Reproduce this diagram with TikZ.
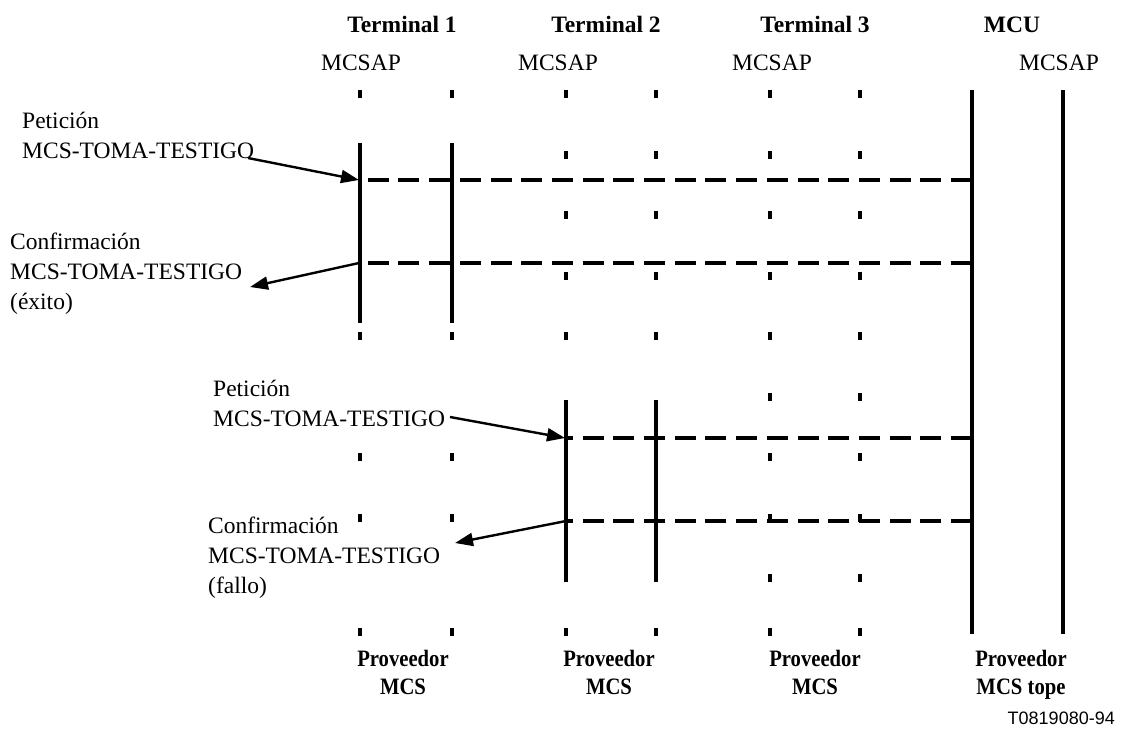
\documentclass[tikz,border=0pt]{standalone}
\usepackage{fontspec}
\setmainfont{Liberation Serif}
\newfontfamily\codefont{Liberation Sans}
\usepackage{graphicx}
\usetikzlibrary{arrows.meta}
\newcommand{\cnd}[1]{\scalebox{0.88}[1]{#1}}
\begin{document}
\begin{tikzpicture}[x=1pt,y=-1pt,
  life/.style={line width=3.2pt},
  tickmark/.style={line width=3.2pt},
  msg/.style={line width=3.2pt, dash pattern=on 21pt off 9.7pt},
  arr/.style={line width=2.4pt, -{Triangle[length=18pt,width=13pt]}},
  lbl/.style={inner sep=0pt, font=\fontsize{23.5}{30}\selectfont},
  head/.style={lbl, anchor=base, font=\fontsize{23.5}{30}\selectfont\bfseries},
  sap/.style={lbl, anchor=base},
  prov/.style={lbl, anchor=base, font=\fontsize{23.5}{28}\selectfont\bfseries}
]
\useasboundingbox (0,0) rectangle (1125,734);

% headers
\node[head] (h1) at (402,32) {Terminal 1};
\node[head] (h2) at (606,32) {Terminal 2};
\node[head] (h3) at (815,32) {Terminal 3};
\node[head] (h4) at (1012,32) {MCU};
\node[sap] (s1) at (361,70) {MCSAP};
\node[sap] (s2) at (558,70) {MCSAP};
\node[sap] (s3) at (772,70) {MCSAP};
\node[sap] (s4) at (1059,70) {MCSAP};

% ticks
\foreach \r in {90,332,453,514,628}{
  \draw[tickmark] (360,\r) -- ++(0,8);
  \draw[tickmark] (452,\r) -- ++(0,8);}
\foreach \r in {90,151,211,272,332,628}{
  \draw[tickmark] (566,\r) -- ++(0,8);
  \draw[tickmark] (656,\r) -- ++(0,8);}
\foreach \r in {90,151,211,272,332,393,453,514,574,628}{
  \draw[tickmark] (770,\r) -- ++(0,8);
  \draw[tickmark] (860,\r) -- ++(0,8);}

% lifelines
\coordinate (t1at) at (360,143); \coordinate (t1ab) at (360,323);
\coordinate (t1bt) at (452,143); \coordinate (t1bb) at (452,323);
\coordinate (t2at) at (566,400); \coordinate (t2ab) at (566,582);
\coordinate (t2bt) at (656,400); \coordinate (t2bb) at (656,582);
\coordinate (mat) at (972,90); \coordinate (mab) at (972,634);
\coordinate (mbt) at (1063,90); \coordinate (mbb) at (1063,634);
\draw[life] (t1at) -- (t1ab);
\draw[life] (t1bt) -- (t1bb);
\draw[life] (t2at) -- (t2ab);
\draw[life] (t2bt) -- (t2bb);
\draw[life] (mat) -- (mab);
\draw[life] (mbt) -- (mbb);

% messages
\coordinate (m1r) at (972,180); \coordinate (m1l) at (360,180);
\coordinate (m2r) at (972,263); \coordinate (m2l) at (360,263);
\coordinate (m3r) at (972,438); \coordinate (m3l) at (566,438);
\coordinate (m4r) at (972,521); \coordinate (m4l) at (566,521);
\draw[msg] (m1r) -- (m1l);
\draw[msg] (m2r) -- (m2l);
\draw[msg] (m3r) -- (m3l);
\draw[msg] (m4r) -- (m4l);

% labels
\node[lbl, anchor=base west] (p1) at (22,128)
  {\begin{tabular}[t]{@{}l@{}}Petición\\MCS-TOMA-TESTIGO\end{tabular}};
\node[lbl, anchor=base west] (c1) at (10,249)
  {\begin{tabular}[t]{@{}l@{}}Confirmación\\MCS-TOMA-TESTIGO\\(éxito)\end{tabular}};
\node[lbl, anchor=base west] (p2) at (213,396)
  {\begin{tabular}[t]{@{}l@{}}Petición\\MCS-TOMA-TESTIGO\end{tabular}};
\node[lbl, anchor=base west] (c2) at (208,533)
  {\begin{tabular}[t]{@{}l@{}}Confirmación\\MCS-TOMA-TESTIGO\\(fallo)\end{tabular}};

% arrows
\coordinate (a1s) at (248,158);
\coordinate (a1e) at (359,180);
\coordinate (a2s) at (359,263);
\coordinate (a2e) at (250,287);
\coordinate (a3s) at (450,417);
\coordinate (a3e) at (565,438);
\coordinate (a4s) at (566,521);
\coordinate (a4e) at (455,543);
\draw[arr] (a1s) -- (a1e);
\draw[arr] (a2s) -- (a2e);
\draw[arr] (a3s) -- (a3e);
\draw[arr] (a4s) -- (a4e);

% bottom labels
\node[prov] (b1) at (403,666)
  {\begin{tabular}[t]{@{}c@{}}\cnd{Proveedor}\\\cnd{MCS}\end{tabular}};
\node[prov] (b2) at (609,666)
  {\begin{tabular}[t]{@{}c@{}}\cnd{Proveedor}\\\cnd{MCS}\end{tabular}};
\node[prov] (b3) at (815,666)
  {\begin{tabular}[t]{@{}c@{}}\cnd{Proveedor}\\\cnd{MCS}\end{tabular}};
\node[prov] (b4) at (1021,666)
  {\begin{tabular}[t]{@{}c@{}}\cnd{Proveedor}\\\cnd{MCS tope}\end{tabular}};

\node[inner sep=0pt, anchor=base east, font=\codefont\fontsize{18}{20}\selectfont] (code) at (1115,724) {T0819080-94};
\end{tikzpicture}
\end{document}
